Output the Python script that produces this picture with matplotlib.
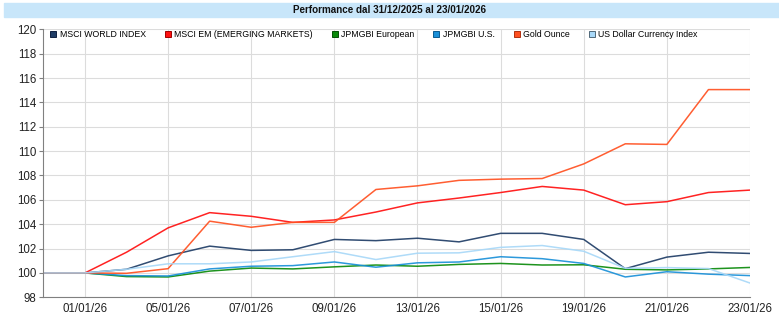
import numpy as np
import matplotlib.pyplot as plt
from matplotlib.lines import Line2D
from matplotlib.patches import Rectangle

plt.rcParams['font.family'] = ['Liberation Sans', 'DejaVu Sans']

dates = ['31/12/25', '01/01/26', '02/01/26', '05/01/26', '06/01/26', '07/01/26',
         '08/01/26', '09/01/26', '12/01/26', '13/01/26', '14/01/26', '15/01/26',
         '16/01/26', '19/01/26', '20/01/26', '21/01/26', '22/01/26', '23/01/26']

world = [100, 100, 100.3, 101.4, 102.2, 101.85, 101.9, 102.75, 102.65, 102.85,
         102.55, 103.25, 103.25, 102.75, 100.35, 101.3, 101.7, 101.6]
em = [100, 100, 101.7, 103.7, 104.95, 104.65, 104.15, 104.35, 105.0, 105.75,
      106.15, 106.6, 107.1, 106.8, 105.6, 105.85, 106.6, 106.8]
gbi_eu = [100, 100, 99.7, 99.67, 100.15, 100.4, 100.33, 100.5, 100.65, 100.55,
          100.7, 100.78, 100.65, 100.67, 100.3, 100.25, 100.33, 100.45]
gbi_us = [100, 100, 99.78, 99.75, 100.33, 100.55, 100.6, 100.9, 100.47, 100.83,
          100.9, 101.33, 101.17, 100.78, 99.67, 100.1, 99.9, 99.78]
gold = [100, 100, 99.97, 100.35, 104.25, 103.75, 104.15, 104.15, 106.85, 107.15,
        107.6, 107.7, 107.75, 108.95, 110.6, 110.55, 115.05, 115.05]
usd = [100, 100, 100.3, 100.75, 100.75, 100.9, 101.33, 101.75, 101.1, 101.62,
       101.65, 102.1, 102.25, 101.78, 100.38, 100.44, 100.36, 99.17]

names = ['MSCI WORLD INDEX', 'MSCI EM (EMERGING MARKETS)', 'JPMGBI European',
         'JPMGBI U.S.', 'Gold Ounce', 'US Dollar Currency Index']
series = [world, em, gbi_eu, gbi_us, gold, usd]
colors = ['#1f3d66', '#ff1010', '#0a8a0a', '#1a90d8', '#ff5020', '#a8d8f8']
edges = ['#0f2040', '#a00000', '#045004', '#0a5a90', '#b03010', '#506878']

fig = plt.figure(figsize=(7.79, 3.25), dpi=100)
fig.patches.append(Rectangle((4 / 779, 1 - 17 / 325), 1, 14 / 325,
                             transform=fig.transFigure, color='#c8e6fa', zorder=0))
fig.text(0.5, 1 - 10 / 325, 'Performance dal 31/12/2025 al 23/01/2026',
         ha='center', va='center', fontsize=7.1, fontweight='bold', color='#111111')

ax = fig.add_axes([43.4 / 779, 1 - 297.3 / 325, 706.6 / 779, 268 / 325])
x = np.arange(len(dates))
for s, c in zip(series, colors):
    ax.plot(x, s, color=c, lw=1.1, alpha=0.92)

ax.set_xlim(0, len(dates) - 1)
ax.set_ylim(98, 120)
ax.set_yticks(np.arange(98, 121, 2))
ax.set_xticks(x[1::2])
ax.set_xticklabels(dates[1::2])
ax.grid(True, color='#dcdcdc', lw=0.8)
ax.set_axisbelow(True)
for sp in ['top', 'right']:
    ax.spines[sp].set_visible(False)
for sp in ['left', 'bottom']:
    ax.spines[sp].set_color('#808080')
ax.tick_params(axis='y', length=3, pad=2, labelsize=8.3, color='#808080', labelcolor='#222222')
ax.tick_params(axis='x', length=0, pad=4, labelsize=8.3, labelcolor='#222222')
for lbl in ax.get_xticklabels():
    lbl.set_clip_on(False)

handles = [Line2D([], [], ls='none', marker='s', markersize=4.5, markerfacecolor=c,
                  markeredgecolor=e, markeredgewidth=0.7) for c, e in zip(colors, edges)]
ax.legend(handles, names, ncol=6, loc='upper left', bbox_to_anchor=(0.0, 1.02),
          frameon=False, fontsize=6.3, handlelength=0.8, handletextpad=0.35,
          columnspacing=2.1, borderaxespad=0.3)

plt.savefig('out.png', dpi=100)
